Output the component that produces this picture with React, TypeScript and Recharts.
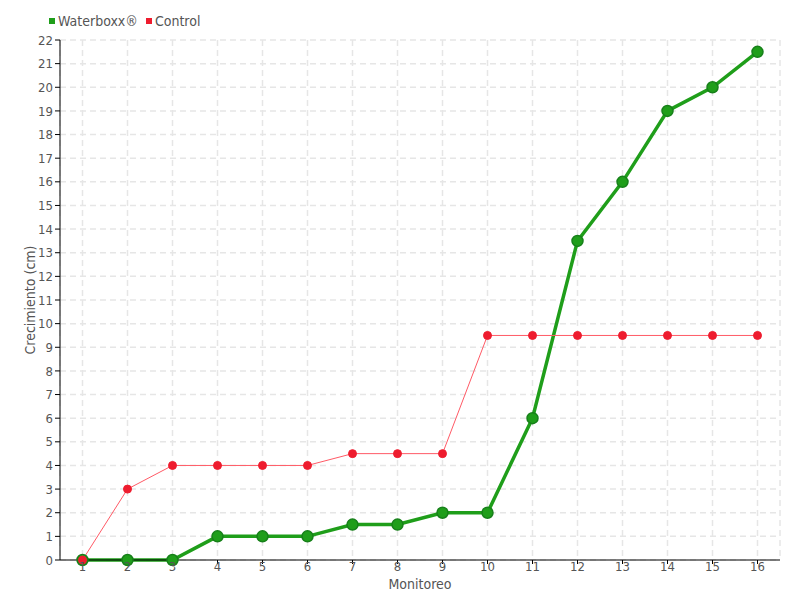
import { LineChart, Line, XAxis, YAxis, CartesianGrid } from "recharts";

const monitoreo = [1, 2, 3, 4, 5, 6, 7, 8, 9, 10, 11, 12, 13, 14, 15, 16];
const waterboxx = [0, 0, 0, 1, 1, 1, 1.5, 1.5, 2, 2, 6, 13.5, 16, 19, 20, 21.5];
const control = [0, 3, 4, 4, 4, 4, 4.5, 4.5, 4.5, 9.5, 9.5, 9.5, 9.5, 9.5, 9.5, 9.5];
const yTicks = Array.from({ length: 23 }, (_, i) => i);

const data = monitoreo.map((m, i) => ({
  m,
  waterboxx: waterboxx[i],
  control: control[i],
}));

const FONT = "'DejaVu Sans Condensed', 'Liberation Sans Narrow', sans-serif";
const GREEN = "#1f9e1a";
const RED = "#ee1c2e";

function LegendBox() {
  const items = [
    { name: "Waterboxx®", color: GREEN },
    { name: "Control", color: RED },
  ];
  return (
    <div
      style={{
        position: "absolute",
        left: 49,
        top: 13,
        display: "flex",
        gap: 8,
        fontFamily: FONT,
        fontSize: 14,
        color: "#555",
      }}
    >
      {items.map((it) => (
        <span key={it.name} style={{ display: "flex", alignItems: "center" }}>
          <span style={{ width: 6, height: 6, background: it.color, marginRight: 3 }} />
          {it.name}
        </span>
      ))}
    </div>
  );
}

export default function App() {
  return (
    <div style={{ position: "absolute", left: 0, top: 0, width: 800, height: 600, background: "#fff" }}>
      <LegendBox />
      <LineChart width={800} height={600} data={data} margin={{ top: 40, right: 20, bottom: 10, left: 20 }}>
        <CartesianGrid stroke="#e6e6e6" strokeDasharray="6 4" strokeWidth={1.5} />
        <XAxis
          dataKey="m"
          type="number"
          domain={[0.5, 16.5]}
          ticks={monitoreo}
          stroke="#000"
          tickSize={4}
          height={30}
          tick={{ fill: "#555", fontSize: 13, fontFamily: FONT }}
          tickMargin={-2}
          label={{
            value: "Monitoreo",
            position: "insideBottom",
            offset: 1,
            style: { fill: "#555", fontSize: 14, fontFamily: FONT },
          }}
        />
        <YAxis
          type="number"
          domain={[0, 22]}
          ticks={yTicks}
          interval={0}
          stroke="#000"
          tickSize={5}
          width={40}
          tick={{ fill: "#555", fontSize: 13, fontFamily: FONT }}
          tickMargin={2}
          label={{
            value: "Crecimiento (cm)",
            angle: -90,
            position: "insideLeft",
            offset: 10,
            style: { textAnchor: "middle", fill: "#555", fontSize: 14, fontFamily: FONT },
          }}
        />
        <Line
          dataKey="waterboxx"
          name="Waterboxx®"
          stroke={GREEN}
          strokeWidth={3.5}
          dot={{ r: 5.5, fill: GREEN, stroke: "#17801a", strokeWidth: 1.5, fillOpacity: 1 }}
          isAnimationActive={false}
        />
        <Line
          dataKey="control"
          name="Control"
          stroke="#ff5a66"
          strokeWidth={1}
          dot={{ r: 4, fill: RED, stroke: RED, strokeWidth: 1, fillOpacity: 1 }}
          isAnimationActive={false}
        />
      </LineChart>
    </div>
  );
}
